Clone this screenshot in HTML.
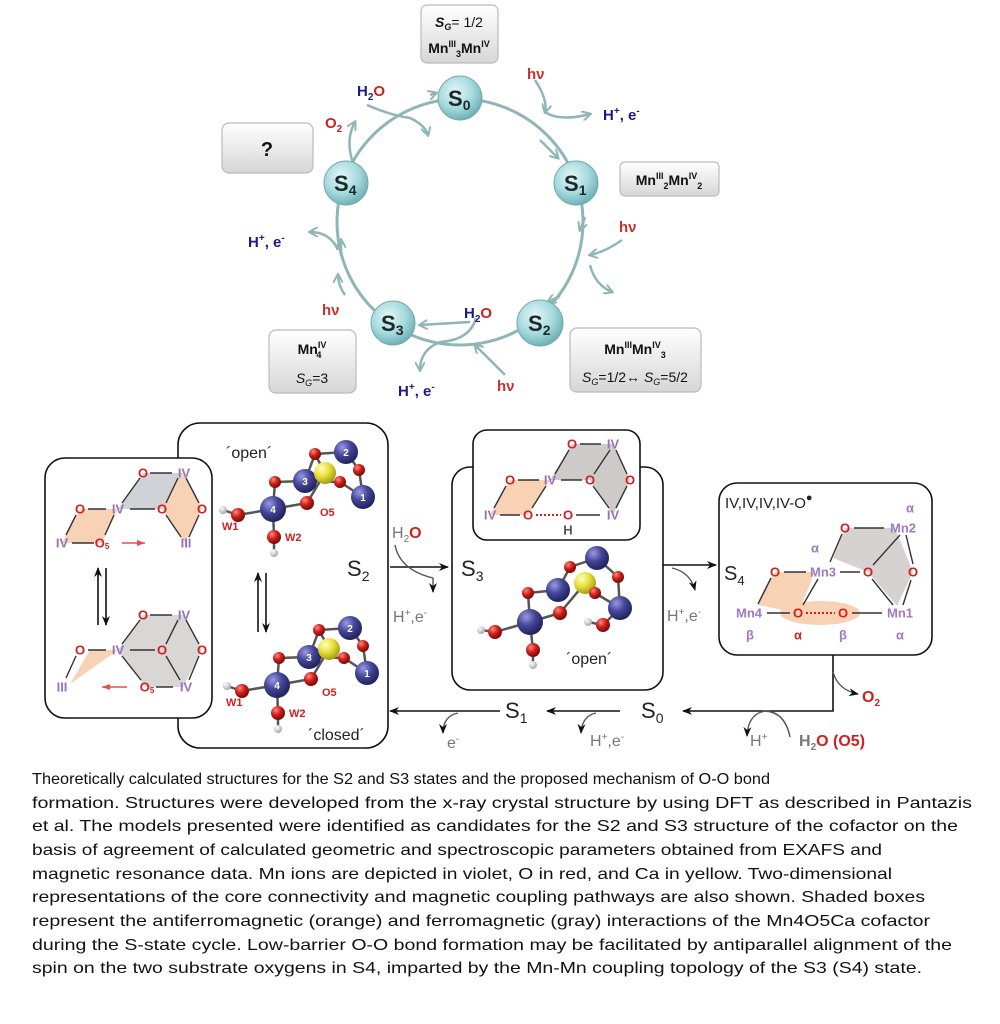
<!DOCTYPE html>
<html><head><meta charset="utf-8"><style>
html,body{margin:0;padding:0;background:#fff;}
svg{display:block;}
text{font-family:"Liberation Sans",sans-serif;}
</style></head><body>
<svg width="1000" height="1024" viewBox="0 0 1000 1024" xmlns="http://www.w3.org/2000/svg">
<defs>
<radialGradient id="tq" cx="40%" cy="35%" r="65%"><stop offset="0" stop-color="#e4f6f7"/><stop offset="0.6" stop-color="#a6dadd"/><stop offset="1" stop-color="#6fb3b8"/></radialGradient>
<linearGradient id="bx" x1="0" y1="0" x2="0" y2="1"><stop offset="0" stop-color="#ffffff"/><stop offset="1" stop-color="#d6d6d6"/></linearGradient>
<radialGradient id="mn" cx="35%" cy="30%" r="70%"><stop offset="0" stop-color="#9a9ae0"/><stop offset="0.5" stop-color="#45459a"/><stop offset="1" stop-color="#23235e"/></radialGradient>
<radialGradient id="ox" cx="35%" cy="30%" r="70%"><stop offset="0" stop-color="#ff8a80"/><stop offset="0.5" stop-color="#d0201a"/><stop offset="1" stop-color="#7a0a08"/></radialGradient>
<radialGradient id="ca" cx="35%" cy="30%" r="70%"><stop offset="0" stop-color="#ffffc0"/><stop offset="0.5" stop-color="#e8e040"/><stop offset="1" stop-color="#a8a010"/></radialGradient>
<radialGradient id="hh" cx="35%" cy="30%" r="70%"><stop offset="0" stop-color="#fff"/><stop offset="1" stop-color="#aaa"/></radialGradient>
<marker id="ta" markerWidth="10" markerHeight="10" refX="8" refY="5" orient="auto" markerUnits="userSpaceOnUse"><path d="M0,0 L9,5 L0,10" fill="none" stroke="#8fb5b6" stroke-width="2"/></marker>
<marker id="ka" markerWidth="10" markerHeight="8" refX="9" refY="4" orient="auto" markerUnits="userSpaceOnUse"><path d="M0,0 L10,4 L0,8 L3,4z" fill="#111"/></marker>
<marker id="ra" markerWidth="8" markerHeight="6" refX="8" refY="3" orient="auto" markerUnits="userSpaceOnUse"><path d="M0,0 L8,3 L0,6z" fill="#e0504a"/></marker>
<g id="mol">
 <g stroke="#555" stroke-width="2.5">
  <line x1="238" y1="515" x2="273" y2="509"/><line x1="273" y1="509" x2="274" y2="537"/><line x1="273" y1="509" x2="275" y2="482"/><line x1="275" y1="482" x2="305" y2="481"/><line x1="273" y1="509" x2="307" y2="503"/><line x1="305" y1="481" x2="315" y2="454"/><line x1="315" y1="454" x2="346" y2="452"/><line x1="346" y1="452" x2="359" y2="470"/><line x1="359" y1="470" x2="363" y2="497"/><line x1="340" y1="482" x2="363" y2="497"/><line x1="305" y1="481" x2="340" y2="482"/><line x1="307" y1="503" x2="325" y2="473"/><line x1="325" y1="473" x2="315" y2="454"/><line x1="238" y1="515" x2="223" y2="510"/><line x1="274" y1="537" x2="274" y2="553"/>
 </g>
 <circle cx="223" cy="510" r="4" fill="url(#hh)"/><circle cx="274" cy="553" r="4" fill="url(#hh)"/>
 <circle cx="238" cy="515" r="7" fill="url(#ox)"/><circle cx="274" cy="537" r="7" fill="url(#ox)"/><circle cx="275" cy="482" r="6" fill="url(#ox)"/>
 <circle cx="273" cy="509" r="13" fill="url(#mn)"/><circle cx="305" cy="481" r="12" fill="url(#mn)"/>
 <circle cx="346" cy="452" r="12" fill="url(#mn)"/><circle cx="363" cy="497" r="12" fill="url(#mn)"/>
 <circle cx="325" cy="473" r="11" fill="url(#ca)"/>
 <circle cx="315" cy="454" r="6" fill="url(#ox)"/><circle cx="359" cy="470" r="6" fill="url(#ox)"/><circle cx="340" cy="482" r="6" fill="url(#ox)"/><circle cx="307" cy="503" r="7" fill="url(#ox)"/>
 <g fill="#fff" font-size="10" font-weight="bold" text-anchor="middle"><text x="273" y="513">4</text><text x="305" y="485">3</text><text x="346" y="456">2</text><text x="363" y="501">1</text></g>
 <g fill="#d02020" font-size="11" font-weight="bold"><text x="222" y="530">W1</text><text x="285" y="541">W2</text></g>
</g>
</defs>

<!-- ===== TOP CYCLE ===== -->
<circle cx="460" cy="222" r="123" fill="none" stroke="#8fb5b6" stroke-width="3"/>
<g stroke="#8fb5b6" stroke-width="2.5" fill="none" marker-end="url(#ta)">
 <path d="M430,95 L436,93"/>
 <path d="M540,140 L558,158"/>
 <path d="M585,217 L580,230"/>
 <path d="M560,296 L548,302"/>
 <path d="M470,322 L420,325"/>
 <path d="M341,256 L341,240"/>
 <path d="M535,80 Q548,100 545,112"/>
 <path d="M545,112 Q560,122 590,114"/>
 <path d="M622,240 Q605,252 590,255"/>
 <path d="M590,265 Q595,285 612,292"/>
 <path d="M505,375 Q490,360 475,345"/>
 <path d="M476,318 Q470,340 440,342 Q420,350 420,370"/>
 <path d="M345,295 Q338,285 338,275"/>
 <path d="M338,250 Q330,232 310,232"/>
 <path d="M353,163 Q345,140 355,122"/>
 <path d="M367,105 Q390,115 410,118 Q425,125 428,135"/>
</g>
<g>
 <circle cx="460" cy="98" r="22" fill="url(#tq)" stroke="#78a8ab"/>
 <circle cx="576" cy="183" r="22" fill="url(#tq)" stroke="#78a8ab"/>
 <circle cx="540" cy="323" r="23" fill="url(#tq)" stroke="#78a8ab"/>
 <circle cx="393" cy="323" r="22" fill="url(#tq)" stroke="#78a8ab"/>
 <circle cx="346" cy="183" r="22" fill="url(#tq)" stroke="#78a8ab"/>
</g>
<g font-size="22" font-weight="bold" fill="#1a2a2a">
 <text x="448" y="106">S<tspan font-size="14" dy="4">0</tspan></text>
 <text x="564" y="191">S<tspan font-size="14" dy="4">1</tspan></text>
 <text x="528" y="331">S<tspan font-size="14" dy="4">2</tspan></text>
 <text x="381" y="331">S<tspan font-size="14" dy="4">3</tspan></text>
 <text x="334" y="191">S<tspan font-size="14" dy="4">4</tspan></text>
</g>
<!-- boxes -->
<g fill="url(#bx)" stroke="#bbb" stroke-width="1.2">
 <rect x="421" y="5" width="77" height="58" rx="6"/>
 <rect x="222" y="123" width="91" height="50" rx="7"/>
 <rect x="620" y="162" width="99" height="34" rx="5"/>
 <rect x="570" y="328" width="131" height="64" rx="7"/>
 <rect x="269" y="330" width="87" height="63" rx="7"/>
</g>
<g font-size="14" font-weight="bold" fill="#111" text-anchor="middle">
 <text x="459" y="27"><tspan font-style="italic">S</tspan><tspan font-size="9" dy="3" font-style="italic">G</tspan><tspan dy="-3" font-weight="normal">= 1/2</tspan></text>
 <text x="459" y="53">Mn<tspan font-size="9" dy="-6">III</tspan><tspan font-size="9" dy="10">3</tspan><tspan dy="-4">Mn</tspan><tspan font-size="9" dy="-6">IV</tspan></text>
 <text x="267" y="156" font-size="20">?</text>
 <text x="669" y="185">Mn<tspan font-size="9" dy="-6">III</tspan><tspan font-size="9" dy="10">2</tspan><tspan dy="-4">Mn</tspan><tspan font-size="9" dy="-6">IV</tspan><tspan font-size="9" dy="10">2</tspan></text>
 <text x="635" y="354">Mn<tspan font-size="9" dy="-6">III</tspan><tspan dy="6">Mn</tspan><tspan font-size="9" dy="-6">IV</tspan><tspan font-size="9" dy="10">3</tspan></text>
 <text x="635" y="382" font-weight="normal"><tspan font-style="italic">S</tspan><tspan font-size="9" dy="3" font-style="italic">G</tspan><tspan dy="-3">=1/2↔ </tspan><tspan font-style="italic">S</tspan><tspan font-size="9" dy="3" font-style="italic">G</tspan><tspan dy="-3">=5/2</tspan></text>
 <text x="312" y="354">Mn<tspan font-size="9" dy="-6">IV</tspan><tspan font-size="9" dy="10" dx="-10">4</tspan></text>
 <text x="312" y="383" font-weight="normal"><tspan font-style="italic">S</tspan><tspan font-size="9" dy="3" font-style="italic">G</tspan><tspan dy="-3">=3</tspan></text>
</g>
<g font-size="15" font-weight="bold">
 <text x="527" y="79" fill="#c83030">hν</text>
 <text x="603" y="120" fill="#1a1a8a">H<tspan font-size="10" dy="-6">+</tspan><tspan dy="6">, e</tspan><tspan font-size="10" dy="-6">-</tspan></text>
 <text x="619" y="232" fill="#c83030">hν</text>
 <text x="464" y="318" fill="#1a1a8a">H<tspan font-size="10" dy="4">2</tspan><tspan dy="-4" fill="#d02020">O</tspan></text>
 <text x="497" y="391" fill="#c83030">hν</text>
 <text x="398" y="396" fill="#1a1a8a">H<tspan font-size="10" dy="-6">+</tspan><tspan dy="6">, e</tspan><tspan font-size="10" dy="-6">-</tspan></text>
 <text x="322" y="315" fill="#c83030">hν</text>
 <text x="248" y="247" fill="#1a1a8a">H<tspan font-size="10" dy="-6">+</tspan><tspan dy="6">, e</tspan><tspan font-size="10" dy="-6">-</tspan></text>
 <text x="325" y="128" fill="#d02020">O<tspan font-size="10" dy="4">2</tspan></text>
 <text x="357" y="96" fill="#1a1a8a">H<tspan font-size="10" dy="4">2</tspan><tspan dy="-4" fill="#d02020">O</tspan></text>
</g>

<!-- ===== LOWER SCHEME ===== -->
<g fill="#fff" stroke="#111" stroke-width="1.6">
 <rect x="178" y="423" width="210" height="325" rx="22"/>
 <rect x="45" y="458" width="167" height="260" rx="20"/>
 <rect x="452" y="467" width="211" height="223" rx="18"/>
 <rect x="473" y="430" width="167" height="110" rx="14"/>
 <rect x="719" y="483" width="213" height="172" rx="18"/>
</g>
<!-- left 2D schemes -->
<polygon points="143,473 183,473 162,509 118,509" fill="#cfd2d6"/>
<polygon points="183,473 202,509 185,543 162,509" fill="#f8d2b4"/>
<polygon points="80,509 118,509 102,543 62,543" fill="#f8d2b4"/>
<polygon points="118,650 143,615 183,615 202,650 183,687 145,687" fill="#d9d6d6"/>
<polygon points="90,650 118,650 70,684" fill="#f8d2b4"/>
<g stroke="#333" stroke-width="1.4">
 <line x1="150" y1="473" x2="172" y2="473"/><line x1="140" y1="478" x2="122" y2="503"/><line x1="186" y1="478" x2="199" y2="503"/><line x1="178" y1="478" x2="166" y2="503"/>
 <line x1="88" y1="509" x2="106" y2="509"/><line x1="130" y1="509" x2="155" y2="509"/><line x1="76" y1="515" x2="66" y2="535"/><line x1="114" y1="515" x2="105" y2="535"/><line x1="72" y1="543" x2="94" y2="543"/><line x1="166" y1="515" x2="181" y2="537"/><line x1="199" y1="515" x2="189" y2="537"/>
 <line x1="150" y1="615" x2="172" y2="615"/><line x1="140" y1="620" x2="122" y2="644"/><line x1="186" y1="620" x2="199" y2="644"/><line x1="178" y1="620" x2="166" y2="644"/>
 <line x1="88" y1="650" x2="106" y2="650"/><line x1="130" y1="650" x2="155" y2="650"/><line x1="76" y1="656" x2="66" y2="678"/><line x1="122" y1="656" x2="141" y2="680"/><line x1="166" y1="656" x2="180" y2="680"/><line x1="199" y1="656" x2="189" y2="680"/><line x1="156" y1="687" x2="173" y2="687"/>
</g>
<g font-size="13" font-weight="bold" text-anchor="middle" dominant-baseline="central">
 <g fill="#d02020"><text x="143" y="473">O</text><text x="80" y="509">O</text><text x="162" y="509">O</text><text x="202" y="509">O</text><text x="102" y="543">O<tspan font-size="8" dy="3">5</tspan></text>
 <text x="143" y="615">O</text><text x="80" y="650">O</text><text x="162" y="650">O</text><text x="202" y="650">O</text><text x="147" y="687">O<tspan font-size="8" dy="3">5</tspan></text></g>
 <g fill="#9a70b8"><text x="184" y="473">IV</text><text x="118" y="509">IV</text><text x="62" y="543">IV</text><text x="186" y="543">III</text>
 <text x="184" y="615">IV</text><text x="118" y="650">IV</text><text x="62" y="687">III</text><text x="186" y="687">IV</text></g>
</g>
<line x1="122" y1="543" x2="145" y2="543" stroke="#e0504a" stroke-width="1.4" marker-end="url(#ra)"/>
<line x1="127" y1="687" x2="102" y2="687" stroke="#e0504a" stroke-width="1.4" marker-end="url(#ra)"/>
<!-- equilibrium arrows -->
<g stroke="#111" stroke-width="1.6">
 <line x1="98" y1="625" x2="98" y2="568" marker-end="url(#ka)"/><line x1="106" y1="568" x2="106" y2="625" marker-end="url(#ka)"/>
 <line x1="258" y1="632" x2="258" y2="573" marker-end="url(#ka)"/><line x1="266" y1="573" x2="266" y2="632" marker-end="url(#ka)"/>
</g>
<!-- molecules -->
<use href="#mol"/>
<use href="#mol" transform="translate(4,176)"/>
<g font-size="16" fill="#222"><text x="226" y="458">´open´</text><text x="308" y="740">´closed´</text></g>
<g fill="#d02020" font-size="11" font-weight="bold"><text x="320" y="516">O5</text><text x="322" y="696">O5</text></g>

<!-- S3 inset 2D -->
<polygon points="550,480 572,444 613,444 630,480 613,515 590,480" fill="#cfcaca"/>
<polygon points="510,480 550,480 528,515 490,515" fill="#f8d2b4"/>
<g stroke="#333" stroke-width="1.4">
 <line x1="580" y1="444" x2="601" y2="444"/><line x1="569" y1="450" x2="555" y2="474"/><line x1="610" y1="450" x2="594" y2="474"/><line x1="616" y1="450" x2="627" y2="474"/>
 <line x1="518" y1="480" x2="539" y2="480"/><line x1="561" y1="480" x2="582" y2="480"/><line x1="506" y1="486" x2="494" y2="508"/><line x1="546" y1="486" x2="532" y2="508"/>
 <line x1="500" y1="515" x2="520" y2="515"/><line x1="576" y1="515" x2="600" y2="515"/><line x1="593" y1="486" x2="609" y2="508"/><line x1="627" y1="486" x2="616" y2="508"/>
</g>
<line x1="536" y1="515" x2="561" y2="515" stroke="#d02020" stroke-width="2" stroke-dasharray="2,2"/>
<g font-size="13" font-weight="bold" text-anchor="middle" dominant-baseline="central">
 <g fill="#d02020"><text x="572" y="444">O</text><text x="510" y="480">O</text><text x="590" y="480">O</text><text x="630" y="480">O</text><text x="528" y="515">O</text><text x="568" y="515">O</text></g>
 <g fill="#9a70b8"><text x="613" y="444">IV</text><text x="550" y="480">IV</text><text x="490" y="515">IV</text><text x="613" y="515">IV</text></g>
 <text x="568" y="530" fill="#555">H</text>
</g>
<!-- S3 molecule -->
<g stroke="#555" stroke-width="2.5">
 <line x1="495" y1="632" x2="530" y2="622"/><line x1="530" y1="622" x2="533" y2="650"/><line x1="530" y1="622" x2="528" y2="593"/><line x1="528" y1="593" x2="558" y2="590"/><line x1="530" y1="622" x2="560" y2="613"/><line x1="558" y1="590" x2="570" y2="567"/><line x1="570" y1="567" x2="597" y2="558"/><line x1="597" y1="558" x2="618" y2="577"/><line x1="618" y1="577" x2="620" y2="608"/><line x1="595" y1="593" x2="620" y2="608"/><line x1="560" y1="613" x2="585" y2="583"/><line x1="603" y1="625" x2="620" y2="608"/><line x1="603" y1="625" x2="588" y2="622"/><line x1="495" y1="632" x2="481" y2="630"/><line x1="533" y1="650" x2="533" y2="665"/>
</g>
<circle cx="481" cy="630" r="4" fill="url(#hh)"/><circle cx="533" cy="665" r="4" fill="url(#hh)"/><circle cx="588" cy="622" r="4" fill="url(#hh)"/>
<circle cx="495" cy="632" r="7" fill="url(#ox)"/><circle cx="533" cy="650" r="7" fill="url(#ox)"/><circle cx="528" cy="593" r="6" fill="url(#ox)"/><circle cx="603" cy="625" r="7" fill="url(#ox)"/>
<circle cx="530" cy="622" r="13" fill="url(#mn)"/><circle cx="558" cy="590" r="12" fill="url(#mn)"/><circle cx="597" cy="558" r="12" fill="url(#mn)"/><circle cx="620" cy="608" r="12" fill="url(#mn)"/>
<circle cx="585" cy="583" r="11" fill="url(#ca)"/>
<circle cx="570" cy="567" r="6" fill="url(#ox)"/><circle cx="618" cy="577" r="6" fill="url(#ox)"/><circle cx="595" cy="593" r="6" fill="url(#ox)"/><circle cx="560" cy="613" r="7" fill="url(#ox)"/>
<text x="566" y="664" font-size="16" fill="#222">´open´</text>

<!-- S4 box -->
<polygon points="833,558 845,528 895,528 913,572 897,606 868,572" fill="#d6d2d2"/>
<polygon points="775,572 815,572 798,613 758,605" fill="#f8d2b4"/>
<ellipse cx="820" cy="613" rx="40" ry="12" fill="#f8d2b4"/>
<g stroke="#333" stroke-width="1.4">
 <line x1="854" y1="528" x2="884" y2="528"/><line x1="842" y1="534" x2="830" y2="562"/><line x1="900" y1="535" x2="873" y2="565"/><line x1="906" y1="535" x2="913" y2="564"/>
 <line x1="784" y1="572" x2="806" y2="572"/><line x1="840" y1="572" x2="860" y2="572"/><line x1="771" y1="578" x2="758" y2="604"/><line x1="818" y1="579" x2="803" y2="605"/>
 <line x1="767" y1="613" x2="790" y2="613"/><line x1="852" y1="613" x2="882" y2="613"/><line x1="872" y1="579" x2="893" y2="605"/><line x1="911" y1="580" x2="903" y2="605"/>
</g>
<line x1="806" y1="613" x2="835" y2="613" stroke="#d02020" stroke-width="2" stroke-dasharray="2,2"/>
<text x="725" y="508" font-size="15" fill="#222">IV,IV,IV,IV-O<tspan font-size="11" dy="-7">●</tspan></text>
<text x="724" y="580" font-size="20" fill="#222">S<tspan font-size="13" dy="5">4</tspan></text>
<g font-size="13" font-weight="bold" text-anchor="middle" dominant-baseline="central">
 <g fill="#d02020"><text x="845" y="528">O</text><text x="775" y="572">O</text><text x="868" y="572">O</text><text x="913" y="572">O</text><text x="798" y="613">O</text><text x="843" y="613">O</text><text x="798" y="635">α</text></g>
 <g fill="#a07ac0"><text x="903" y="528">Mn2</text><text x="823" y="572">Mn3</text><text x="749" y="613">Mn4</text><text x="900" y="613">Mn1</text>
 <text x="910" y="508">α</text><text x="815" y="548">α</text><text x="750" y="635">β</text><text x="843" y="635">β</text><text x="900" y="635">α</text></g>
</g>

<!-- connectors -->
<g stroke="#111" stroke-width="1.6" fill="none">
 <line x1="390" y1="567" x2="448" y2="567" marker-end="url(#ka)"/>
 <line x1="663" y1="565" x2="716" y2="565" marker-end="url(#ka)"/>
 <polyline points="833,655 833,711 683,711" marker-end="url(#ka)"/>
 <line x1="620" y1="711" x2="547" y2="711" marker-end="url(#ka)"/>
 <line x1="500" y1="711" x2="390" y2="711" marker-end="url(#ka)"/>
</g>
<g stroke="#555" stroke-width="1.4" fill="none">
 <path d="M395,545 Q400,570 433,578 L433,592" marker-end="url(#ka)"/>
 <path d="M672,568 Q690,572 695,590" marker-end="url(#ka)"/>
 <path d="M833,672 Q838,690 858,694" marker-end="url(#ka)"/>
 <path d="M458,713 Q443,716 443,733" marker-end="url(#ka)"/>
 <path d="M596,713 Q582,716 581,733" marker-end="url(#ka)"/>
 <path d="M790,737 Q785,712 765,711 Q748,714 747,736" marker-end="url(#ka)"/>
</g>
<g font-size="16" fill="#777">
 <text x="392" y="538">H<tspan font-size="10" dy="4">2</tspan><tspan dy="-4" fill="#d02020" font-weight="bold">O</tspan></text>
 <text x="393" y="622">H<tspan font-size="10" dy="-6">+</tspan><tspan dy="6">,e</tspan><tspan font-size="10" dy="-6">-</tspan></text>
 <text x="667" y="621">H<tspan font-size="10" dy="-6">+</tspan><tspan dy="6">,e</tspan><tspan font-size="10" dy="-6">-</tspan></text>
 <text x="447" y="748">e<tspan font-size="10" dy="-6">-</tspan></text>
 <text x="590" y="746">H<tspan font-size="10" dy="-6">+</tspan><tspan dy="6">,e</tspan><tspan font-size="10" dy="-6">-</tspan></text>
 <text x="750" y="746">H<tspan font-size="10" dy="-6">+</tspan></text>
 <text x="799" y="746" font-weight="bold">H<tspan font-size="10" dy="4">2</tspan><tspan dy="-4" fill="#d02020">O (O5)</tspan></text>
 <text x="862" y="702" font-weight="bold" fill="#d02020">O<tspan font-size="10" dy="4">2</tspan></text>
</g>
<g font-size="22" fill="#222">
 <text x="347" y="576">S<tspan font-size="14" dy="5">2</tspan></text>
 <text x="461" y="576">S<tspan font-size="14" dy="5">3</tspan></text>
 <text x="505" y="718">S<tspan font-size="14" dy="5">1</tspan></text>
 <text x="641" y="718">S<tspan font-size="14" dy="5">0</tspan></text>
</g>

<!-- caption -->
<g font-size="16" fill="#111">
 <text x="32" y="784" textLength="738" lengthAdjust="spacingAndGlyphs">Theoretically calculated structures for the S2 and S3 states and the proposed mechanism of O-O bond</text>
 <text x="32" y="808" textLength="940" lengthAdjust="spacingAndGlyphs">formation. Structures were developed from the x-ray crystal structure by using DFT as described in Pantazis</text>
 <text x="32" y="831" textLength="926" lengthAdjust="spacingAndGlyphs">et al. The models presented were identified as candidates for the S2 and S3 structure of the cofactor on the</text>
 <text x="32" y="855" textLength="850" lengthAdjust="spacingAndGlyphs">basis of agreement of calculated geometric and spectroscopic parameters obtained from EXAFS and</text>
 <text x="32" y="879" textLength="860" lengthAdjust="spacingAndGlyphs">magnetic resonance data. Mn ions are depicted in violet, O in red, and Ca in yellow. Two-dimensional</text>
 <text x="32" y="902" textLength="893" lengthAdjust="spacingAndGlyphs">representations of the core connectivity and magnetic coupling pathways are also shown. Shaded boxes</text>
 <text x="32" y="926" textLength="898" lengthAdjust="spacingAndGlyphs">represent the antiferromagnetic (orange) and ferromagnetic (gray) interactions of the Mn4O5Ca cofactor</text>
 <text x="32" y="950" textLength="920" lengthAdjust="spacingAndGlyphs">during the S-state cycle. Low-barrier O-O bond formation may be facilitated by antiparallel alignment of the</text>
 <text x="32" y="973" textLength="890" lengthAdjust="spacingAndGlyphs">spin on the two substrate oxygens in S4, imparted by the Mn-Mn coupling topology of the S3 (S4) state.</text>
</g>
</svg>
</body></html>
